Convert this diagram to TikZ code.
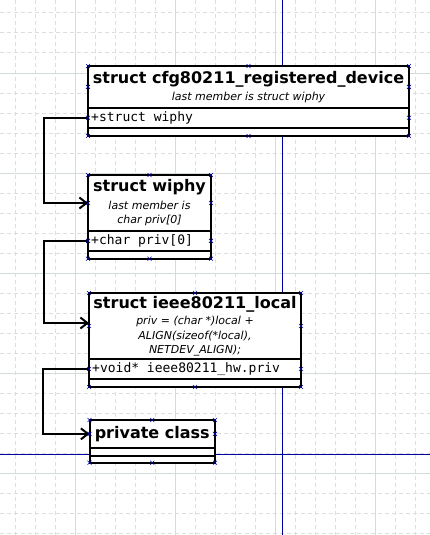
\documentclass[tikz,border=0pt]{standalone}
\usepackage{fontspec}
\setmainfont{DejaVu Sans}
\setmonofont{DejaVu Sans Mono}
\usetikzlibrary{arrows.meta}

\definecolor{gridminor}{HTML}{DCDFDF}
\definecolor{gridmajor}{HTML}{D3DBDB}
\definecolor{guide}{HTML}{0000A0}

\tikzset{
    minorgrid/.style={gridminor, line width=1pt, dash pattern=on 4pt off 3pt},
    majorgrid/.style={gridmajor, line width=1pt},
    guideline/.style={guide, line width=1pt},
    classhead/.style={draw, fill=white, line width=2pt, anchor=north west,
        inner sep=0pt, outer sep=0pt, align=center, minimum width=#1,
        font=\fontsize{11}{14.5}\selectfont},
    classpart/.style={draw, fill=white, line width=2pt, anchor=north west,
        inner sep=0pt, outer sep=0pt, minimum width=#1},
    attrtext/.style={anchor=west, inner xsep=3pt, inner ysep=0pt,
        font=\fontsize{13}{15}\selectfont\ttfamily},
    conn/.style={line width=2pt, -{Straight Barb[length=7pt,width=11pt,line width=2pt]}},
    cpoint/.style={guide, line width=0.6pt},
}
\newcommand{\classtitle}[1]{{\fontsize{16}{18}\selectfont\bfseries #1}}
\newcommand{\classnote}[1]{{\fontsize{11}{14.5}\selectfont\itshape #1}}
\newcommand{\cpmark}[1]{\draw[cpoint] (#1) ++(-2,-2) -- ++(4,4) ++(-4,0) -- ++(4,-4);}

\begin{document}
\begin{tikzpicture}[x=1pt,y=-1pt]

        \fill[white] (0,0) rectangle (430,535);
        \useasboundingbox (0,0) rectangle (430,535);

        % grid
        \foreach \gx in {15,35,...,415}
            { \draw[minorgrid] (\gx,0) -- (\gx,535); }
        \foreach \gy in {13,33,...,533}
            { \draw[minorgrid] (0,\gy) -- (430,\gy); }
        \foreach \gx in {75,175,275,375}
            { \draw[majorgrid] (\gx,0) -- (\gx,535); }
        \foreach \gy in {73,173,273,373,473}
            { \draw[majorgrid] (0,\gy) -- (430,\gy); }

        % guides
        \draw[guideline] (282,0) -- (282,535);
        \draw[guideline] (0,454) -- (430,454);

        % struct cfg80211_registered_device
        \node[classhead=321, minimum height=41.7] (devhead) at (88,66)
            {\classtitle{struct cfg80211\_registered\_device}\\[3pt]
             \classnote{last member is struct wiphy}};
        \node[classpart=321, minimum height=20] (devattr) at (devhead.south west) {};
        \node[classpart=321, minimum height=8.3] (devops) at (devattr.south west) {};
        \node[attrtext] (devtxt) at (devattr.west) {+struct wiphy};

        % struct wiphy
        \node[classhead=123, minimum height=56] (wiphyhead) at (88,175)
            {\classtitle{struct wiphy}\\[3pt]
             \classnote{last member is}\\
             \classnote{char priv[0]}};
        \node[classpart=123, minimum height=19.7] (wiphyattr) at (wiphyhead.south west) {};
        \node[classpart=123, minimum height=8] (wiphyops) at (wiphyattr.south west) {};
        \node[attrtext] (wiphytxt) at (wiphyattr.west) {+char priv[0]};

        % struct ieee80211_local
        \node[classhead=212, minimum height=66] (localhead) at (89,293)
            {\classtitle{struct ieee80211\_local}\\[2pt]
             \classnote{priv = (char *)local +}\\
             \classnote{ALIGN(sizeof(*local),}\\
             \classnote{NETDEV\_ALIGN);}};
        \node[classpart=212, minimum height=20] (localattr) at (localhead.south west) {};
        \node[classpart=212, minimum height=8] (localops) at (localattr.south west) {};
        \node[attrtext] (localtxt) at (localattr.west) {+void* ieee80211\_hw.priv};

        % private class
        \node[classhead=125.5, minimum height=27.7] (privhead) at (89.5,420)
            {\classtitle{private class}};
        \node[classpart=125.5, minimum height=8] (privattr) at (privhead.south west) {};
        \node[classpart=125.5, minimum height=7] (privops) at (privattr.south west) {};

        % connectors
        \draw[conn] (devattr.west) -- ++(-44,0) |- (wiphyhead.west);
        \draw[conn] (wiphyattr.west) -- ++(-44,0) |- ([yshift=3pt]localhead.west);
        \draw[conn] (localattr.west) -- ++(-46,0) |- (privhead.west);

        % connection points
        \foreach \cls in {dev,wiphy,local,priv}
            {
            \cpmark{\cls head.north west}
            \cpmark{\cls head.north}
            \cpmark{\cls head.north east}
            \cpmark{\cls head.west}
            \cpmark{\cls head.east}
            \cpmark{\cls ops.south west}
            \cpmark{\cls ops.south}
            \cpmark{\cls ops.south east}
            }
        \foreach \cls in {dev,wiphy,local}
            {
            \cpmark{\cls attr.west}
            \cpmark{\cls attr.east}
            }
    \end{tikzpicture}
\end{document}
